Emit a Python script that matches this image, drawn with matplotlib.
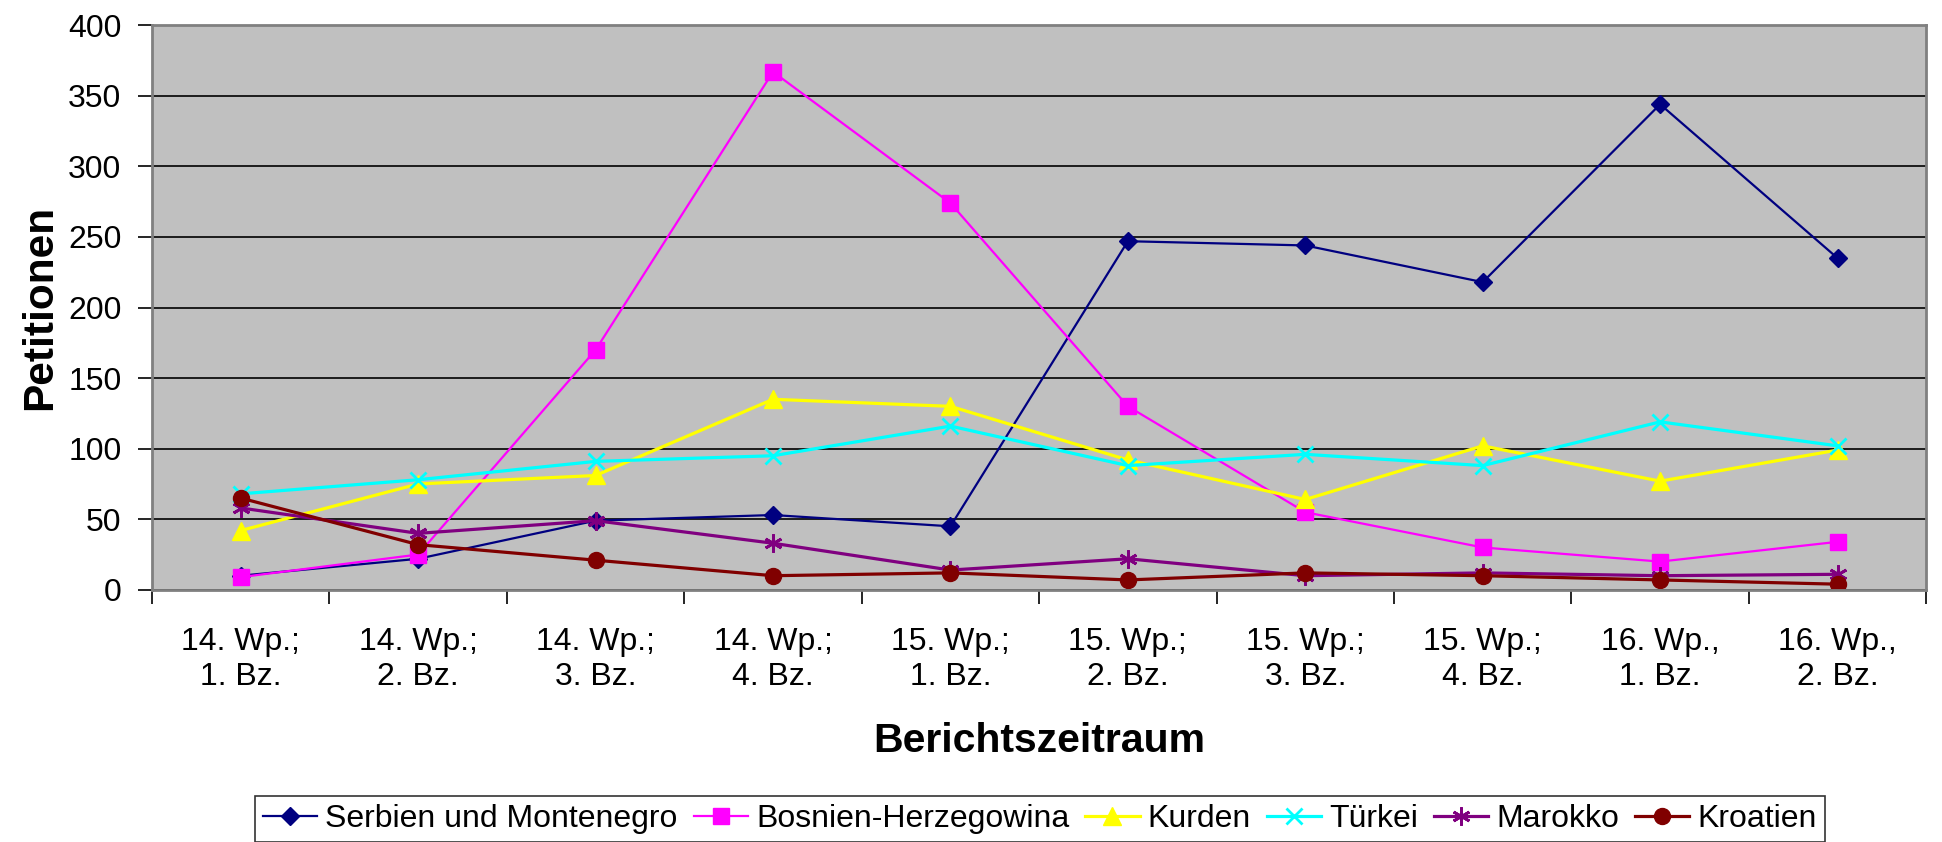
import numpy as np
import matplotlib.pyplot as plt

plt.rcParams['font.family'] = ['Liberation Sans', 'DejaVu Sans']

zeitraum = ['14. Wp.;\n1. Bz.', '14. Wp.;\n2. Bz.', '14. Wp.;\n3. Bz.', '14. Wp.;\n4. Bz.',
            '15. Wp.;\n1. Bz.', '15. Wp.;\n2. Bz.', '15. Wp.;\n3. Bz.', '15. Wp.;\n4. Bz.',
            '16. Wp.,\n1. Bz.', '16. Wp.,\n2. Bz.']

serbien = [10, 22, 49, 53, 45, 247, 244, 218, 344, 235]
bosnien = [9, 25, 170, 367, 274, 130, 55, 30, 20, 34]
kurden = [42, 75, 81, 135, 130, 92, 64, 102, 77, 99]
tuerkei = [68, 78, 91, 95, 116, 88, 96, 88, 119, 102]
marokko = [58, 40, 49, 33, 14, 22, 10, 12, 10, 11]
kroatien = [65, 32, 21, 10, 12, 7, 12, 10, 7, 4]

x = np.arange(len(zeitraum))

fig = plt.figure(figsize=(19.42, 8.42), dpi=100)
ax = fig.add_axes([0.0783, 0.2995, 0.9136, 0.6705])
ax.set_facecolor('#C0C0C0')

# series: name, values, colour, marker, size, linewidth
reihen = [
    ('Serbien und Montenegro', serbien, '#000080', 'D', 9, 1.6),
    ('Bosnien-Herzegowina', bosnien, '#FF00FF', 's', 11, 1.6),
    ('Kurden', kurden, '#FFFF00', '^', 13, 2.3),
    ('Türkei', tuerkei, '#00FFFF', 'x', 12, 2.3),
    ('Marokko', marokko, '#800080', (6, 2, 0), 13, 2.3),
    ('Kroatien', kroatien, '#800000', 'o', 11.5, 2.3),
]
for name, werte, farbe, mk, ms, lw in reihen:
    ax.plot(x, werte, color=farbe, marker=mk, markersize=ms, linewidth=lw,
            markeredgewidth=2 if mk in ('x', (6, 2, 0)) else 1,
            markerfacecolor=farbe, markeredgecolor=farbe, label=name)

ax.set_xlim(-0.5, 9.5)
ax.set_ylim(0, 400)
ax.set_yticks(np.arange(0, 401, 50))
ax.yaxis.grid(True, color='black', linewidth=1.2)
ax.set_axisbelow(True)

ax.set_xticks(x)
ax.set_xticklabels(zeitraum)
ax.set_xticks(np.arange(-0.5, 10, 1), minor=True)
ax.tick_params(axis='x', which='major', length=0, pad=27, labelsize=23)
ax.tick_params(axis='x', which='minor', length=10, width=1.2, color='black')
ax.tick_params(axis='y', length=10, width=1.2, color='black', labelsize=23, pad=12)

for s in ax.spines.values():
    s.set_color('#808080')
    s.set_linewidth(2)

ax.set_ylabel('Petitionen', fontsize=30.5, fontweight='bold', labelpad=6)
ax.set_xlabel('Berichtszeitraum', fontsize=29.5, fontweight='bold', labelpad=22)

leg = fig.legend(loc='upper center', bbox_to_anchor=(0.5355, 0.0546), ncol=6,
                 fontsize=23, frameon=True, fancybox=False, edgecolor='black',
                 handlelength=1.7, handletextpad=0.25, columnspacing=0.5,
                 borderpad=0.25, borderaxespad=0)
leg.get_frame().set_linewidth(1.2)

fig.savefig('out.png', dpi=100)
